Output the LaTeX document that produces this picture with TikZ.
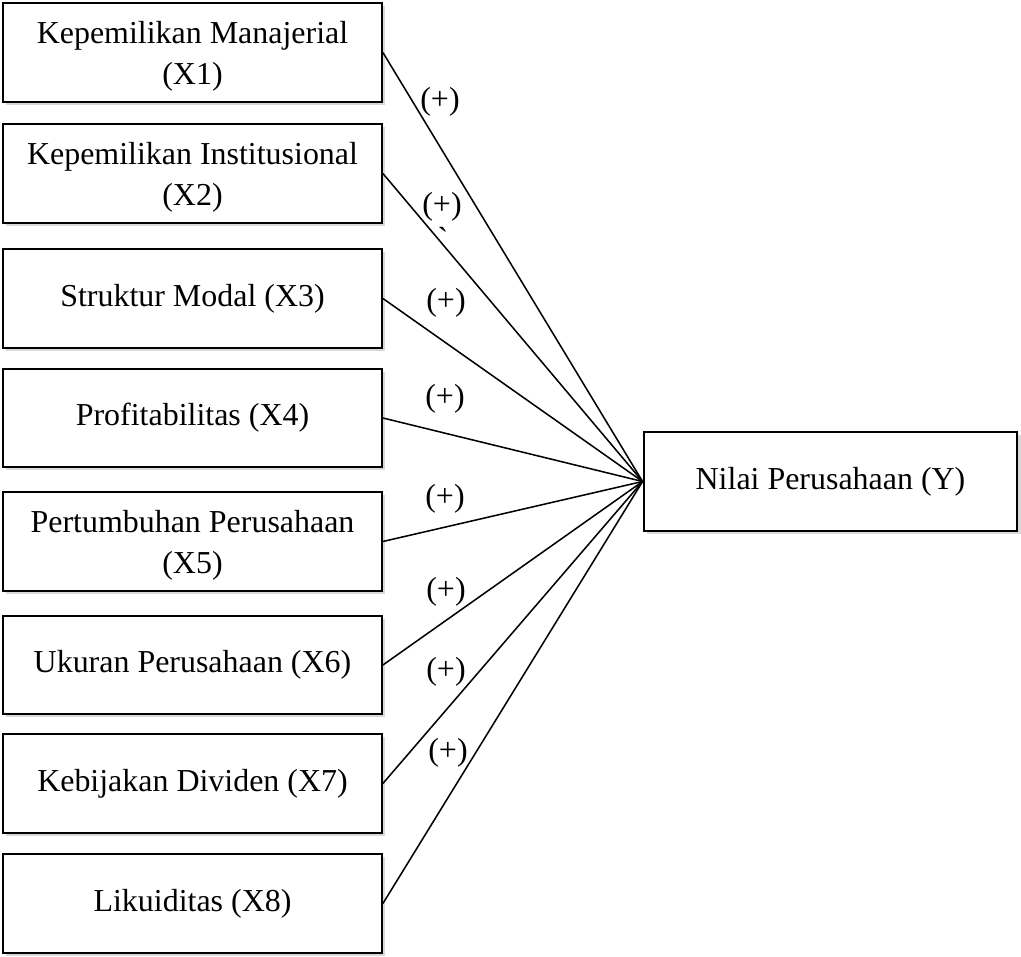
\documentclass[tikz,border=0pt]{standalone}
\usepackage{fontspec}
\setmainfont{Liberation Serif}
\usetikzlibrary{shadows}
\newcommand{\twoline}[2]{\rule{0pt}{10.6pt}#1\\#2}
\begin{document}
\begin{tikzpicture}[x=0.36pt, y=-0.36pt,
		var/.style={draw, rectangle, line width=0.7pt, fill=white, align=center, minimum width=136.4pt, minimum height=35.4pt, inner sep=2pt, font=\fontsize{11.5}{14.8}\selectfont, drop shadow={shadow xshift=1.1pt, shadow yshift=-1.1pt, opacity=0.3}},
		path/.style={line width=0.55pt},
		sign/.style={font=\fontsize{11.5}{14}\selectfont, inner sep=0pt}]
		\useasboundingbox (0,0) rectangle (1021,957);
		% independent variables
		\node[var] (x1) at (192.5,52.5) {\twoline{Kepemilikan Manajerial}{(X1)}};
		\node[var] (x2) at (192.5,173.5) {\twoline{Kepemilikan Institusional}{(X2)}};
		\node[var] (x3) at (192.5,298.5) {Struktur Modal (X3)};
		\node[var] (x4) at (192.5,418) {Profitabilitas (X4)};
		\node[var] (x5) at (192.5,541.5) {\twoline{Pertumbuhan Perusahaan}{(X5)}};
		\node[var] (x6) at (192.5,665) {Ukuran Perusahaan (X6)};
		\node[var] (x7) at (192.5,783.5) {Kebijakan Dividen (X7)};
		\node[var] (x8) at (192.5,903.5) {Likuiditas (X8)};
		% dependent variable
		\node[var, minimum width=134.6pt] (y) at (830.5,481.5) {Nilai Perusahaan (Y)};
		\foreach \i in {1,...,8}
			\draw[path] (x\i.east) -- (y.west);
		% signs
		\node[sign] (s1) at (440,102) {(+)};
		\node[sign] (s2) at (442,207) {(+)};
		\node[sign] (s3) at (446,303) {(+)};
		\node[sign] (s4) at (445,399) {(+)};
		\node[sign] (s5) at (445,499) {(+)};
		\node[sign] (s6) at (446,592) {(+)};
		\node[sign] (s7) at (446,672) {(+)};
		\node[sign] (s8) at (448,753) {(+)};
		\node[sign] (tick) at (443,238) {\textasciigrave};
	\end{tikzpicture}
\end{document}
